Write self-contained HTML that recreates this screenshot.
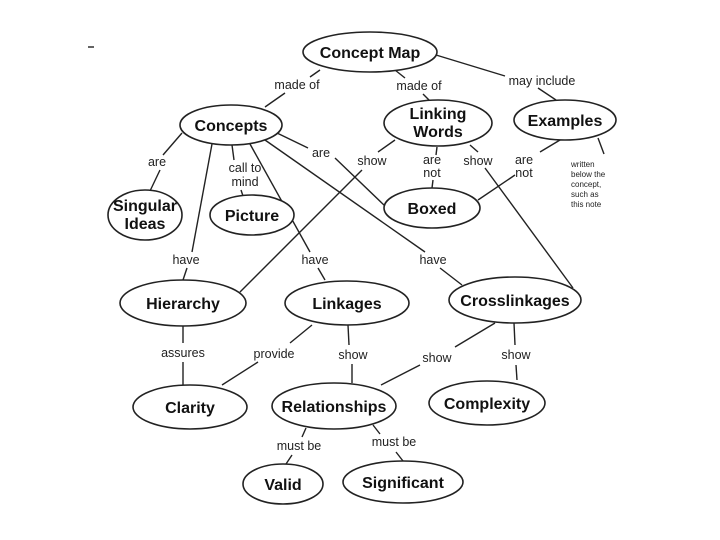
<!DOCTYPE html>
<html><head><meta charset="utf-8"><style>
html,body{margin:0;padding:0;background:#fff;width:720px;height:540px;overflow:hidden}
svg{display:block}
.n{font-family:"Liberation Sans",sans-serif;font-weight:bold;font-size:16px;fill:#111;text-anchor:middle}
.l{font-family:"Liberation Sans",sans-serif;font-size:12.5px;fill:#222;text-anchor:middle}
.s{font-family:"Liberation Sans",sans-serif;font-size:8px;fill:#222}
ellipse{fill:#fff;stroke:#222;stroke-width:1.6}
line{stroke:#222;stroke-width:1.4}
</style></head><body>
<svg width="720" height="540" viewBox="0 0 720 540">
<g>
<line x1="320" y1="70" x2="310" y2="77"/><line x1="285" y1="93" x2="265" y2="107"/>
<line x1="395" y1="70" x2="405" y2="78"/><line x1="423" y1="94" x2="430" y2="101"/>
<line x1="436" y1="55" x2="505" y2="76"/><line x1="538" y1="88" x2="556" y2="100"/>
<line x1="182" y1="133" x2="163" y2="155"/><line x1="160" y1="170" x2="150" y2="191"/>
<line x1="212" y1="144" x2="192" y2="252"/><line x1="187" y1="268" x2="183" y2="280"/>
<line x1="232" y1="145" x2="234" y2="160"/><line x1="241" y1="190" x2="243" y2="196"/>
<line x1="250" y1="144" x2="310" y2="252"/><line x1="318" y1="268" x2="325" y2="280"/>
<line x1="265" y1="140" x2="425" y2="252"/><line x1="440" y1="268" x2="462" y2="285"/>
<line x1="277" y1="133" x2="308" y2="148"/><line x1="335" y1="158" x2="385" y2="206"/>
<line x1="395" y1="140" x2="378" y2="152"/><line x1="362" y1="170" x2="240" y2="292"/>
<line x1="437" y1="147" x2="436" y2="155"/><line x1="433" y1="180" x2="432" y2="188"/>
<line x1="470" y1="145" x2="478" y2="152"/><line x1="485" y1="168" x2="573" y2="288"/>
<line x1="560" y1="140" x2="540" y2="152"/><line x1="515" y1="175" x2="478" y2="200"/>
<line x1="598" y1="138" x2="604" y2="154"/>
<line x1="183" y1="326" x2="183" y2="343"/><line x1="183" y1="362" x2="183" y2="385"/>
<line x1="312" y1="325" x2="290" y2="343"/><line x1="258" y1="362" x2="222" y2="385"/>
<line x1="348" y1="325" x2="349" y2="345"/><line x1="352" y1="364" x2="352" y2="383"/>
<line x1="495" y1="323" x2="455" y2="347"/><line x1="420" y1="365" x2="381" y2="385"/>
<line x1="514" y1="323" x2="515" y2="345"/><line x1="516" y1="365" x2="517" y2="380"/>
<line x1="306" y1="428" x2="302" y2="437"/><line x1="292" y1="455" x2="286" y2="464"/>
<line x1="373" y1="425" x2="380" y2="434"/><line x1="396" y1="452" x2="403" y2="461"/>
<line x1="88" y1="47" x2="94" y2="47"/>
</g>
<ellipse cx="370" cy="52" rx="67" ry="20"/><text class="n" x="370" y="58">Concept Map</text>
<ellipse cx="231" cy="125" rx="51" ry="20"/><text class="n" x="231" y="131">Concepts</text>
<ellipse cx="438" cy="123" rx="54" ry="23"/><text class="n" x="438" y="119">Linking</text><text class="n" x="438" y="137">Words</text>
<ellipse cx="565" cy="120" rx="51" ry="20"/><text class="n" x="565" y="126">Examples</text>
<ellipse cx="145" cy="215" rx="37" ry="25"/><text class="n" x="145" y="211">Singular</text><text class="n" x="145" y="229">Ideas</text>
<ellipse cx="252" cy="215" rx="42" ry="20"/><text class="n" x="252" y="221">Picture</text>
<ellipse cx="432" cy="208" rx="48" ry="20"/><text class="n" x="432" y="214">Boxed</text>
<ellipse cx="183" cy="303" rx="63" ry="23"/><text class="n" x="183" y="309">Hierarchy</text>
<ellipse cx="347" cy="303" rx="62" ry="22"/><text class="n" x="347" y="309">Linkages</text>
<ellipse cx="515" cy="300" rx="66" ry="23"/><text class="n" x="515" y="306">Crosslinkages</text>
<ellipse cx="190" cy="407" rx="57" ry="22"/><text class="n" x="190" y="413">Clarity</text>
<ellipse cx="334" cy="406" rx="62" ry="23"/><text class="n" x="334" y="412">Relationships</text>
<ellipse cx="487" cy="403" rx="58" ry="22"/><text class="n" x="487" y="409">Complexity</text>
<ellipse cx="283" cy="484" rx="40" ry="20"/><text class="n" x="283" y="490">Valid</text>
<ellipse cx="403" cy="482" rx="60" ry="21"/><text class="n" x="403" y="488">Significant</text>
<g class="l">
<text class="l" x="297" y="89">made of</text>
<text class="l" x="419" y="90">made of</text>
<text class="l" x="542" y="85">may include</text>
<text class="l" x="157" y="166">are</text>
<text class="l" x="245" y="172">call to</text><text class="l" x="245" y="186">mind</text>
<text class="l" x="321" y="157">are</text>
<text class="l" x="372" y="165">show</text>
<text class="l" x="432" y="164">are</text><text class="l" x="432" y="177">not</text>
<text class="l" x="478" y="165">show</text>
<text class="l" x="524" y="164">are</text><text class="l" x="524" y="177">not</text>
<text class="l" x="186" y="264">have</text>
<text class="l" x="315" y="264">have</text>
<text class="l" x="433" y="264">have</text>
<text class="l" x="183" y="357">assures</text>
<text class="l" x="274" y="358">provide</text>
<text class="l" x="353" y="359">show</text>
<text class="l" x="437" y="362">show</text>
<text class="l" x="516" y="359">show</text>
<text class="l" x="299" y="450">must be</text>
<text class="l" x="394" y="446">must be</text>
</g>
<text class="s" x="571" y="167">written</text>
<text class="s" x="571" y="177">below the</text>
<text class="s" x="571" y="187">concept,</text>
<text class="s" x="571" y="197">such as</text>
<text class="s" x="571" y="207">this note</text>
</svg>
</body></html>
